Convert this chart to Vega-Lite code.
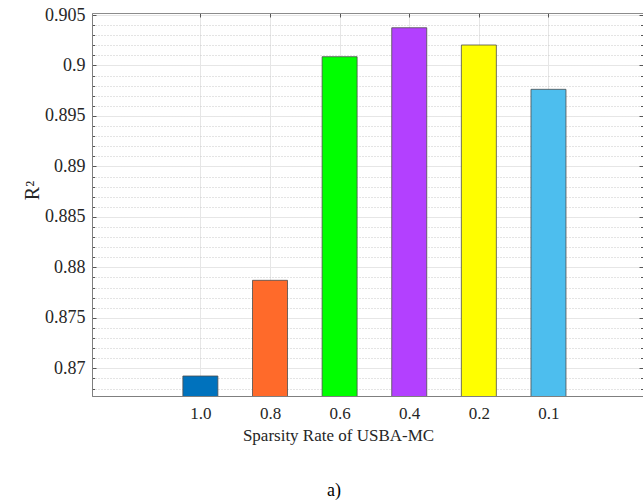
{
  "$schema": "https://vega.github.io/schema/vega-lite/v6.json",
  "width": 551,
  "height": 383,
  "autosize": {"type": "none"},
  "padding": {"left": 92, "top": 13, "right": 0, "bottom": 107},
  "background": "white",
  "config": {
    "view": {"stroke": "#8c8c8c", "strokeWidth": 1},
    "font": "Liberation Serif",
    "axis": {
      "labelFont": "Liberation Serif",
      "titleFont": "Liberation Serif",
      "labelColor": "#262626",
      "titleColor": "#262626",
      "domainColor": "#7f7f7f",
      "tickColor": "#555555",
      "labelFontSize": 17,
      "titleFontSize": 18,
      "titleFontWeight": "normal"
    }
  },
  "title": {
    "text": "a)",
    "orient": "bottom",
    "anchor": "start",
    "dx": 305,
    "offset": 39,
    "font": "Liberation Serif",
    "fontSize": 18,
    "fontWeight": "normal",
    "color": "#000000"
  },
  "data": {
    "values": [
      {"pos": 1, "rate": "1.0", "r2": 0.86924},
      {"pos": 2, "rate": "0.8", "r2": 0.87872},
      {"pos": 3, "rate": "0.6", "r2": 0.90087},
      {"pos": 4, "rate": "0.4", "r2": 0.90374},
      {"pos": 5, "rate": "0.2", "r2": 0.90203},
      {"pos": 6, "rate": "0.1", "r2": 0.89764}
    ]
  },
  "layer": [
    {
      "mark": {"type": "bar", "size": 35, "clip": true, "stroke": "#4d4d4d", "strokeWidth": 0.8},
      "encoding": {
        "x": {
          "field": "pos",
          "type": "quantitative",
          "scale": {"domain": [-0.485, 7.286], "nice": false, "zero": false},
          "axis": {
            "orient": "bottom",
            "values": [1, 2, 3, 4, 5, 6],
            "labelExpr": "['1.0','0.8','0.6','0.4','0.2','0.1'][datum.value-1]",
            "labelFont": "Liberation Serif",
            "labelFontSize": 17,
            "title": "Sparsity Rate of USBA-MC",
            "titleFont": "Liberation Serif",
            "titleX": 246,
            "titleY": 44,
            "titleBaseline": "alphabetic",
            "titleFontSize": 17,
            "grid": true,
            "gridColor": "#e6e6e6",
            "gridWidth": 1,
            "tickSize": -4,
            "labelPadding": 13,
            "labelFlush": false
          }
        },
        "y": {
          "field": "r2",
          "type": "quantitative",
          "scale": {"domain": [0.86726, 0.9052], "nice": false, "zero": false},
          "axis": {
            "orient": "left",
            "values": [0.868, 0.869, 0.87, 0.871, 0.872, 0.873, 0.874, 0.875, 0.876, 0.877, 0.878, 0.879, 0.88, 0.881, 0.882, 0.883, 0.884, 0.885, 0.886, 0.887, 0.888, 0.889, 0.89, 0.891, 0.892, 0.893, 0.894, 0.895, 0.896, 0.897, 0.898, 0.899, 0.9, 0.901, 0.902, 0.903, 0.904, 0.905],
            "labelExpr": "abs(datum.value*200 - round(datum.value*200)) < 0.01 ? format(datum.value, '.3~f') : ''",
            "labelFont": "Liberation Serif",
            "labelFontSize": 18,
            "title": "R²",
            "titleFont": "Liberation Serif",
            "titleFontSize": 20,
            "titleX": -54,
            "titleY": 177,
            "titleAngle": -90,
            "titleBaseline": "alphabetic",
            "titleAlign": "center",
            "grid": true,
            "gridColor": {"condition": {"test": "abs(datum.value*200 - round(datum.value*200)) < 0.01", "value": "#e6e6e6"}, "value": "#c8c8c8"},
            "gridDash": {"condition": {"test": "abs(datum.value*200 - round(datum.value*200)) < 0.01", "value": []}, "value": [1, 2]},
            "gridWidth": 1,
            "tickSize": {"condition": {"test": "abs(datum.value*200 - round(datum.value*200)) < 0.01", "value": -4}, "value": -2.5},
            "labelPadding": 11,
            "labelOverlap": false
          }
        },
        "color": {
          "field": "rate",
          "type": "nominal",
          "scale": {
            "domain": ["1.0", "0.8", "0.6", "0.4", "0.2", "0.1"],
            "range": ["#0072BD", "#FF6A2A", "#00FF00", "#B340FF", "#FFFF00", "#4DBEEE"]
          },
          "legend": null
        }
      }
    },
    {
      "mark": {"type": "tick", "opacity": 0},
      "encoding": {
        "x": {
          "field": "pos",
          "type": "quantitative",
          "axis": {
            "orient": "top",
            "values": [1, 2, 3, 4, 5, 6],
            "labels": false,
            "title": null,
            "domain": false,
            "grid": false,
            "tickSize": -4
          }
        },
        "y": {
          "field": "r2",
          "type": "quantitative",
          "axis": {
            "orient": "right",
            "values": [0.868, 0.869, 0.87, 0.871, 0.872, 0.873, 0.874, 0.875, 0.876, 0.877, 0.878, 0.879, 0.88, 0.881, 0.882, 0.883, 0.884, 0.885, 0.886, 0.887, 0.888, 0.889, 0.89, 0.891, 0.892, 0.893, 0.894, 0.895, 0.896, 0.897, 0.898, 0.899, 0.9, 0.901, 0.902, 0.903, 0.904, 0.905],
            "labels": false,
            "title": null,
            "domain": false,
            "grid": false,
            "tickSize": {"condition": {"test": "abs(datum.value*200 - round(datum.value*200)) < 0.01", "value": -4}, "value": -2.5}
          }
        }
      }
    }
  ],
  "resolve": {"axis": {"x": "independent", "y": "independent"}}
}
